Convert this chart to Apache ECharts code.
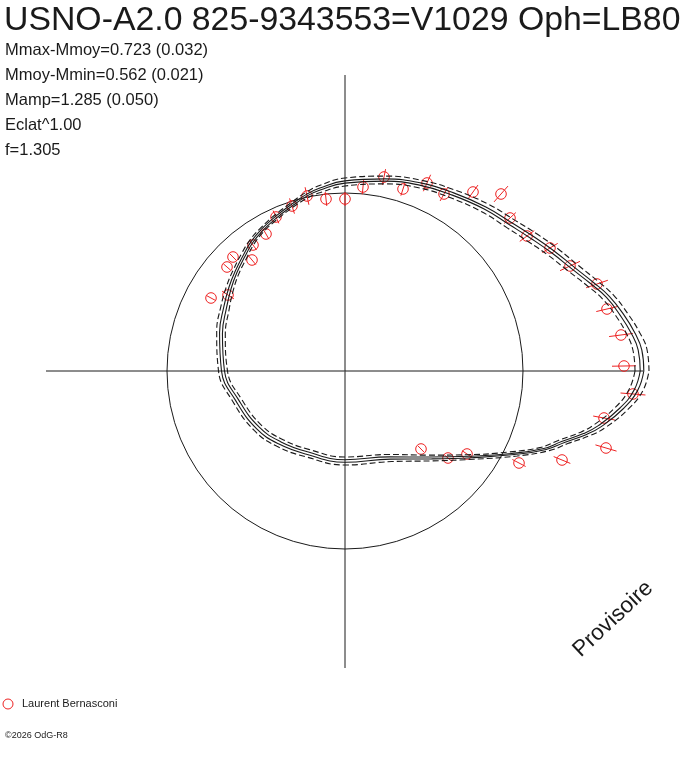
<!DOCTYPE html>
<html>
<head>
<meta charset="utf-8">
<script src="https://cdn.jsdelivr.net/npm/echarts@6/dist/echarts.min.js"></script>
<style>
html, body { margin: 0; padding: 0; background: #fff; }
#chart { width: 688px; height: 768px; }
</style>
</head>
<body>
<div id="chart"></div>
<script>
// 标题和参数文字
var titleText = 'USNO-A2.0 825-9343553=V1029 Oph=LB80';
var infoLines = ['Mmax-Mmoy=0.723 (0.032)', 'Mmoy-Mmin=0.562 (0.021)', 'Mamp=1.285 (0.050)', 'Eclat^1.00', 'f=1.305'];
var observer = 'Laurent Bernasconi';
var stampText = '\u00a92026 OdG-R8';
var watermark = 'Provisoire';

// 十字轴的范围 (左, 右, 下, 上)
var crossExtent = [-299, 298, -297, 296];

// 平均星等圆 (半径)
var meanRadius = [178];

// 拟合曲线 (x, y)，以中心为原点
var curveMain = [
    [297, 0], [295, 21], [288, 38], [277, 56], [263, 74], [247, 88], [228, 103], [208, 119],
    [188, 133], [166, 147], [140, 163], [108, 177], [75, 187], [40, 191], [0, 189], [-25, 182],
    [-38, 176], [-53, 166], [-70, 153], [-83, 141], [-93, 129], [-101, 115], [-109, 99], [-115, 83],
    [-120, 63], [-124, 38], [-122, 0], [-108, -29], [-87, -57], [-65, -72], [-38, -82], [0, -90],
    [45, -87], [85, -87], [125, -86], [168, -83], [200, -78], [218, -71], [240, -63], [255, -55],
    [277, -37], [291, -19]
];
// 虚线包络的半宽 (每个顶点)
var spreadDash = [7, 7, 6.5, 6, 6, 6, 6, 6, 6, 5.5, 5, 4.5, 4, 4, 4, 3.5, 3, 2.5, 2.5, 2.5, 3,
    3.5, 3.5, 4, 4.5, 4.5, 4.5, 4.5, 4.5, 4.5, 4, 4, 4, 4, 4, 4.5, 4.5, 5, 5.5, 6, 6.5, 7];
// 两条实线的半宽
var spreadSolid = [1.8, 1.8, 1.8, 1.8, 1.6, 1.6, 1.6, 1.6, 1.6, 1.5, 1.3, 1.3, 1.2, 1.1, 1.1, 1,
    0.9, 0.9, 0.9, 0.9, 1, 1.1, 1.1, 1.3, 1.5, 1.5, 1.5, 1.5, 1.5, 1.5, 1.3, 1.3, 1.3, 1.3, 1.3,
    1.3, 1.3, 1.5, 1.6, 1.7, 1.8, 1.8];

// 观测点 (x, y, 误差)
var obsPoints = [
    [-134, 73, 5], [-117, 76, 7], [-118, 104, 5], [-112, 114, 5], [-93, 111, 6], [-92, 126, 6],
    [-79, 137, 6], [-69, 154, 7], [-53, 165, 8], [-38, 175, 9], [-19, 172, 7], [0, 172, 7],
    [18, 184, 7.5], [39, 194, 8], [58, 182, 7], [82, 188, 9], [99, 177, 8], [128, 179, 8.5],
    [156, 177, 10.5], [165, 153, 8], [182, 135, 9], [205, 123, 9], [225, 105, 11], [252, 87, 11.5],
    [262, 62, 11], [276, 36, 12], [279, 5, 12], [288, -23, 12.5], [259, -47, 11], [261, -77, 11],
    [217, -89, 9], [174, -92, 7.5], [122, -83, 6], [103, -87, 5], [76, -78, 4.5]
];

var red = '#ee2222';
var ink = '#1a1a1a';

// 沿径向偏移曲线，并闭合
function offsetCurve(curve, spread, sign) {
    var out = [];
    for (var i = 0; i < curve.length; i++) {
        var x = curve[i][0], y = curve[i][1];
        var r = Math.sqrt(x * x + y * y);
        var k = (r + sign * spread[i]) / r;
        out.push([x * k, y * k]);
    }
    out.push(out[0]);
    return out;
}

function curveSeries(data, dashed) {
    return {
        type: 'line',
        data: data,
        smooth: 0.45,
        symbol: 'none',
        silent: true,
        clip: false,
        lineStyle: { color: ink, width: 1.1, type: dashed ? [6, 3] : 'solid' }
    };
}

// 十字线
function renderCross(params, api) {
    var l = api.coord([api.value(0), 0]), r = api.coord([api.value(1), 0]);
    var b = api.coord([0, api.value(2)]), t = api.coord([0, api.value(3)]);
    return {
        type: 'group',
        children: [
            { type: 'line', shape: { x1: l[0], y1: l[1], x2: r[0], y2: r[1] }, style: { stroke: ink, lineWidth: 1 } },
            { type: 'line', shape: { x1: b[0], y1: b[1], x2: t[0], y2: t[1] }, style: { stroke: ink, lineWidth: 1 } }
        ]
    };
}

function renderMean(params, api) {
    var c = api.coord([0, 0]);
    var r = api.size([api.value(0), 0])[0];
    return {
        type: 'circle',
        shape: { cx: c[0], cy: c[1], r: r },
        style: { fill: 'none', stroke: ink, lineWidth: 1 }
    };
}

function renderObs(params, api) {
    var x = api.value(0), y = api.value(1), e = api.value(2);
    var r = Math.sqrt(x * x + y * y);
    var p = api.coord([x, y]);
    var a = api.coord([x * (r - e) / r, y * (r - e) / r]);
    var b = api.coord([x * (r + e) / r, y * (r + e) / r]);
    return {
        type: 'group',
        children: [
            { type: 'line', shape: { x1: a[0], y1: a[1], x2: b[0], y2: b[1] }, style: { stroke: red, lineWidth: 1 } },
            { type: 'circle', shape: { cx: p[0], cy: p[1], r: 5.3 }, style: { fill: 'none', stroke: red, lineWidth: 1 } }
        ]
    };
}

var hiddenAxis = {
    type: 'value',
    axisLine: { show: false },
    axisTick: { show: false },
    axisLabel: { show: false },
    splitLine: { show: false }
};

var graphics = [
    { type: 'text', x: 4, y: 21, style: { text: titleText, font: '33.8px "Liberation Sans", Arial, sans-serif', fill: ink, align: 'left', verticalAlign: 'middle' } },
    { type: 'circle', shape: { cx: 8, cy: 704, r: 5 }, style: { fill: 'none', stroke: red, lineWidth: 1 } },
    { type: 'text', x: 22, y: 704, style: { text: observer, font: '11px "Liberation Sans", Arial, sans-serif', fill: ink, align: 'left', verticalAlign: 'middle' } },
    { type: 'text', x: 5, y: 736, style: { text: stampText, font: '9px "Liberation Sans", Arial, sans-serif', fill: ink, align: 'left', verticalAlign: 'middle' } },
    { type: 'text', x: 613, y: 619, rotation: 43 * Math.PI / 180, style: { text: watermark, font: '22.5px "Liberation Sans", Arial, sans-serif', fill: ink, align: 'center', verticalAlign: 'middle' } }
];
for (var i = 0; i < infoLines.length; i++) {
    graphics.push({ type: 'text', x: 5, y: 50 + i * 25, style: { text: infoLines[i], font: '16.5px "Liberation Sans", Arial, sans-serif', fill: ink, align: 'left', verticalAlign: 'middle' } });
}

var myChart = echarts.init(document.getElementById('chart'));
var option = {
    animation: false,
    backgroundColor: '#fff',
    // 整个画布作为坐标区，中心在 (345, 371)
    grid: { left: 0, top: 0, width: 688, height: 768, containLabel: false },
    xAxis: echarts.util.merge({ min: -345, max: 343 }, hiddenAxis, true),
    yAxis: echarts.util.merge({ min: -397, max: 371 }, hiddenAxis, true),
    graphic: graphics,
    series: [
        { type: 'custom', renderItem: renderCross, data: [crossExtent], silent: true, clip: false },
        { type: 'custom', renderItem: renderMean, data: [meanRadius], silent: true, clip: false },
        curveSeries(offsetCurve(curveMain, spreadDash, 1), true),
        curveSeries(offsetCurve(curveMain, spreadSolid, 1), false),
        curveSeries(offsetCurve(curveMain, spreadSolid, -1), false),
        curveSeries(offsetCurve(curveMain, spreadDash, -1), true),
        { type: 'custom', name: observer, renderItem: renderObs, data: obsPoints, clip: false }
    ]
};
myChart.setOption(option);
</script>
</body>
</html>
